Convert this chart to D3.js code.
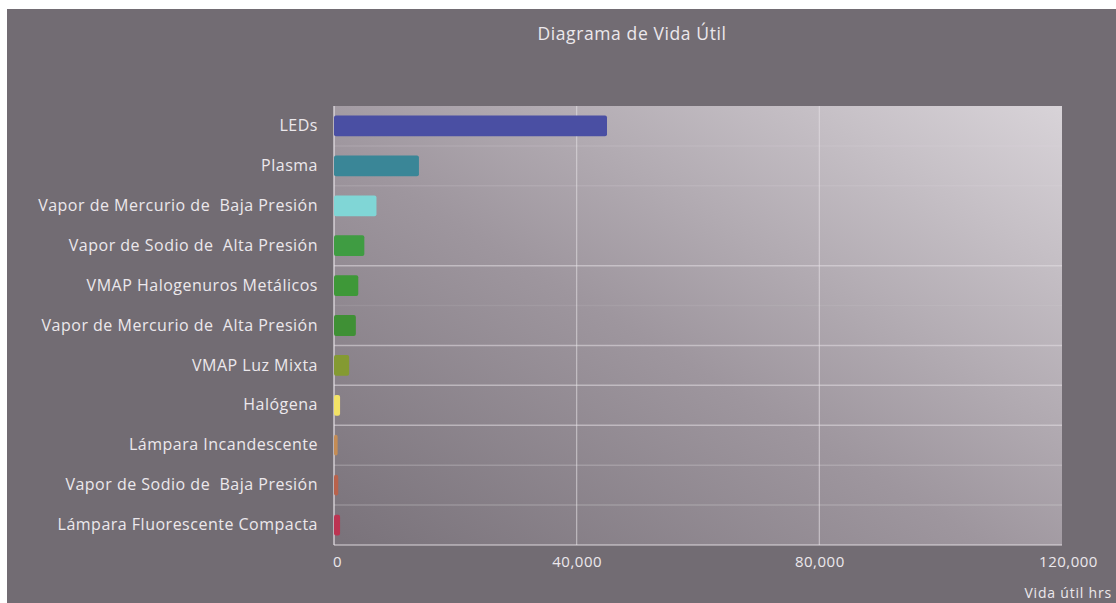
<!DOCTYPE html>
<html lang='es'>

<head>
    <meta charset='UTF-8'>
    <title>Diagrama de Vida Útil</title>
    <script src="https://cdn.jsdelivr.net/npm/d3@7"></script>
    <style>
        body { margin: 0; background: #ffffff; }
        text { font-family: "Open Sans", "DejaVu Sans", sans-serif; }
    </style>
</head>

<body>
    <svg class="chart"></svg>
</body>
<script>
    // datos
    const lamparas = [
        "LEDs",
        "Plasma",
        "Vapor de Mercurio de  Baja Presión",
        "Vapor de Sodio de  Alta Presión",
        "VMAP Halogenuros Metálicos",
        "Vapor de Mercurio de  Alta Presión",
        "VMAP Luz Mixta",
        "Halógena",
        "Lámpara Incandescente",
        "Vapor de Sodio de  Baja Presión",
        "Lámpara Fluorescente Compacta"
    ];
    const horas = [45000, 14000, 7000, 5000, 4000, 3600, 2500, 1000, 600, 700, 1000];
    const colores = ["#4a4fa3", "#3a8697", "#80d6d6", "#3f9c42", "#3e9838", "#3f9035",
        "#849a32", "#f2e266", "#c48c55", "#b8624c", "#bc3452"];
    const ticksX = [0, 40000, 80000, 120000];

    const svgWidth = 1116;
    const svgHeight = 603;
    const margin = { left: 334, right: 54, top: 106, bottom: 58 };

    const svg = d3.select(".chart")
        .attr("width", svgWidth)
        .attr("height", svgHeight);

    // fondo gris (con borde blanco arriba e izquierda)
    svg.append("rect")
        .attr("x", 7).attr("y", 9)
        .attr("width", svgWidth - 7).attr("height", svgHeight - 9)
        .attr("fill", "#726c73");

    const x = d3.scaleLinear()
        .domain([0, 120000])
        .range([margin.left, svgWidth - margin.right]);
    const y = d3.scaleBand()
        .domain(lamparas)
        .range([margin.top, svgHeight - margin.bottom])
        .paddingInner(0.48)
        .paddingOuter(0.24);

    // degradado del area de trazado
    const defs = svg.append("defs");
    const grad = defs.append("linearGradient")
        .attr("id", "fondo")
        .attr("x1", 0).attr("y1", 1).attr("x2", 1).attr("y2", 0);
    grad.append("stop").attr("offset", "0%").attr("stop-color", "#79727a");
    grad.append("stop").attr("offset", "45%").attr("stop-color", "#9e969e");
    grad.append("stop").attr("offset", "100%").attr("stop-color", "#d8d3d8");

    const x0 = margin.left, x1 = svgWidth - margin.right;
    const y0 = margin.top, y1 = svgHeight - margin.bottom;
    svg.append("rect")
        .attr("x", x0).attr("y", y0)
        .attr("width", x1 - x0).attr("height", y1 - y0)
        .attr("fill", "url(#fondo)");

    // lineas de separacion horizontales
    const step = y.step();
    const sepOpacity = [0.15, 0.15, 0, 0.55, 0.1, 0.55, 0.55, 0.55, 0.25, 0.25];
    svg.append("g").selectAll("line")
        .data(lamparas.slice(1))
        .join("line")
        .attr("x1", x0).attr("x2", x1)
        .attr("y1", d => y(d) - step * 0.24)
        .attr("y2", d => y(d) - step * 0.24)
        .attr("stroke", "#e4dfe4")
        .attr("stroke-width", 1.5)
        .attr("stroke-opacity", (d, i) => sepOpacity[i]);

    // lineas verticales de la rejilla
    svg.append("g").selectAll("line")
        .data(ticksX.slice(1, 3))
        .join("line")
        .attr("x1", d => x(d)).attr("x2", d => x(d))
        .attr("y1", y0).attr("y2", y1)
        .attr("stroke", "#e4dfe4")
        .attr("stroke-width", 1.2)
        .attr("stroke-opacity", 0.6);

    // ejes
    svg.append("line")
        .attr("x1", x0).attr("x2", x0).attr("y1", y0).attr("y2", y1)
        .attr("stroke", "#e8e4e8").attr("stroke-width", 1.5).attr("stroke-opacity", 0.8);
    svg.append("line")
        .attr("x1", x0).attr("x2", x1).attr("y1", y1).attr("y2", y1)
        .attr("stroke", "#e8e4e8").attr("stroke-width", 1.5).attr("stroke-opacity", 0.6);

    // barras
    svg.append("g").selectAll("rect")
        .data(horas)
        .join("rect")
        .attr("x", x(0))
        .attr("y", (d, i) => y(lamparas[i]))
        .attr("width", d => x(d) - x(0))
        .attr("height", y.bandwidth())
        .attr("rx", 2)
        .attr("fill", (d, i) => colores[i]);

    // etiquetas de categorias
    const yAxis = svg.append("g")
        .attr("transform", `translate(${x0},0)`)
        .call(d3.axisLeft(y).tickSize(0).tickPadding(16));
    yAxis.select(".domain").remove();
    yAxis.selectAll("text")
        .attr("fill", "#ece8ec")
        .style("font-size", "16px")
        .style("letter-spacing", "0.5px")
        .style("white-space", "pre");

    // eje x
    const xAxis = svg.append("g")
        .attr("transform", `translate(0,${y1})`)
        .call(d3.axisBottom(x).tickValues(ticksX).tickFormat(d3.format(",")).tickSize(0).tickPadding(11));
    xAxis.select(".domain").remove();
    xAxis.selectAll("text")
        .attr("fill", "#ece8ec")
        .style("font-size", "15px")
        .style("letter-spacing", "0.5px")
        .attr("dx", (d, i) => i === 0 ? 3 : (i === 3 ? 6 : 0));

    // titulo
    svg.append("text")
        .attr("x", 632).attr("y", 40)
        .attr("text-anchor", "middle")
        .attr("fill", "#ece8ec")
        .style("font-size", "17.5px")
        .style("letter-spacing", "0.6px")
        .text("Diagrama de Vida Útil");

    svg.append("text")
        .attr("x", 1112).attr("y", 598)
        .attr("text-anchor", "end")
        .attr("fill", "#ece8ec")
        .style("font-size", "14px")
        .style("letter-spacing", "0.8px")
        .text("Vida útil hrs");
</script>

</html>
